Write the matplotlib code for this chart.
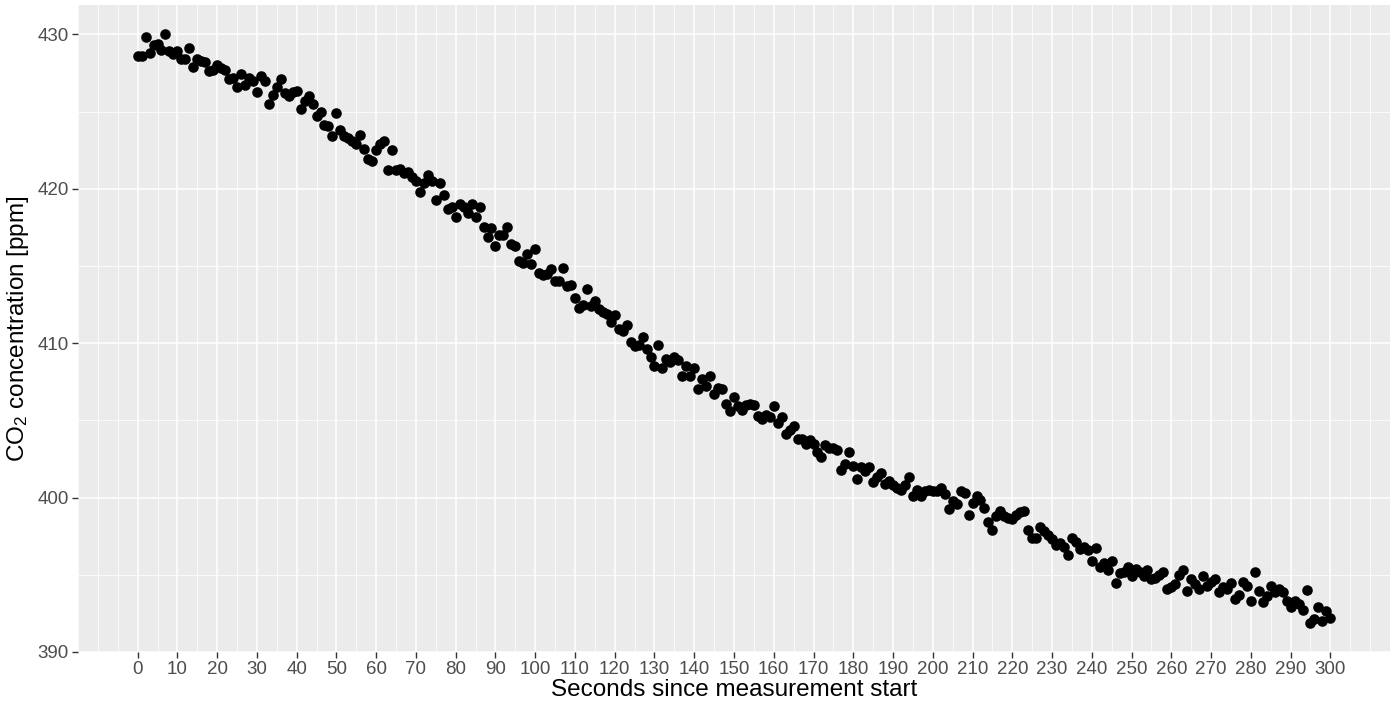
import numpy as np
import matplotlib
matplotlib.use("Agg")
import matplotlib.pyplot as plt
from matplotlib.ticker import MultipleLocator

plt.rcParams["font.family"] = ["Liberation Sans", "DejaVu Sans"]
plt.rcParams["mathtext.fontset"] = "custom"
plt.rcParams["mathtext.rm"] = "Liberation Sans"
plt.rcParams["mathtext.it"] = "Liberation Sans:italic"

# Time since start of the measurement [s]
seconds = np.arange(0, 301)

# CO2 concentration readings [ppm], one per second
co2_ppm = [
    428.6, 428.6, 429.8, 428.8, 429.3, 429.4, 429.0, 430.0, 428.9, 428.7,
    428.9, 428.4, 428.4, 429.1, 427.9, 428.4, 428.3, 428.2, 427.6, 427.7,
    428.0, 427.8, 427.7, 427.1, 427.2, 426.6, 427.45, 426.7, 427.2, 427.0,
    426.3, 427.3, 427.0, 425.5, 426.1, 426.6, 427.1, 426.2, 426.0, 426.3,
    426.35, 425.2, 425.7, 426.0, 425.5, 424.7, 425.0, 424.1, 424.05, 423.45,
    424.9, 423.8, 423.45, 423.3, 423.1, 422.9, 423.5, 422.6, 421.9, 421.8,
    422.5, 422.9, 423.1, 421.2, 422.5, 421.2, 421.3, 421.0, 421.1, 420.75,
    420.5, 419.8, 420.35, 420.9, 420.5, 419.3, 420.4, 419.6, 418.7, 418.8,
    418.2, 419.0, 418.8, 418.4, 419.0, 418.2, 418.8, 417.55, 416.9, 417.45,
    416.3, 417.0, 417.0, 417.55, 416.4, 416.3, 415.3, 415.2, 415.8, 415.1,
    416.1, 414.55, 414.4, 414.5, 414.8, 414.05, 414.0, 414.85, 413.7, 413.8,
    412.9, 412.3, 412.5, 413.5, 412.4, 412.75, 412.2, 412.0, 411.9, 411.4,
    411.8, 410.9, 410.8, 411.2, 410.1, 409.8, 409.9, 410.4, 409.6, 409.1,
    408.5, 409.9, 408.4, 409.0, 408.8, 409.1, 408.9, 407.9, 408.5, 407.85,
    408.4, 407.0, 407.7, 407.25, 407.85, 406.7, 407.1, 407.0, 406.05, 405.6,
    406.5, 405.9, 405.7, 406.0, 406.05, 406.0, 405.3, 405.1, 405.35, 405.2,
    405.9, 404.8, 405.2, 404.1, 404.4, 404.65, 403.8, 403.8, 403.5, 403.7,
    403.45, 402.95, 402.6, 403.4, 403.2, 403.2, 403.1, 401.8, 402.2, 402.95,
    402.05, 401.2, 401.95, 401.7, 401.95, 401.0, 401.3, 401.6, 400.9, 401.1,
    400.8, 400.65, 400.5, 400.8, 401.3, 400.1, 400.5, 400.1, 400.4, 400.5,
    400.4, 400.4, 400.6, 400.2, 399.25, 399.8, 399.6, 400.4, 400.3, 398.9,
    399.65, 400.1, 399.85, 399.3, 398.4, 397.9, 398.8, 399.1, 398.8, 398.65,
    398.6, 398.9, 399.05, 399.15, 397.9, 397.4, 397.4, 398.1, 397.85, 397.6,
    397.3, 396.9, 397.05, 396.8, 396.3, 397.4, 397.1, 396.65, 396.8, 396.6,
    395.9, 396.75, 395.5, 395.75, 395.3, 395.9, 394.45, 395.1, 395.15, 395.5,
    394.9, 395.4, 395.2, 394.9, 395.3, 394.7, 394.8, 395.0, 395.2, 394.05,
    394.2, 394.4, 395.0, 395.3, 393.95, 394.7, 394.4, 394.1, 394.9, 394.3,
    394.5, 394.75, 393.9, 394.2, 394.1, 394.45, 393.45, 393.7, 394.5, 394.25,
    393.3, 395.15, 393.95, 393.25, 393.6, 394.25, 393.85, 394.1, 393.85, 393.3,
    392.9, 393.3, 393.1, 392.7, 394.0, 391.9, 392.15, 392.9, 392.0, 392.65,
    392.2,
]

x_breaks = np.arange(0, 301, 10)
y_breaks = [390, 400, 410, 420, 430]

fig = plt.figure(figsize=(13.94, 7.08), dpi=100)
ax = fig.add_axes([78 / 1394, 56 / 708, 1312 / 1394, 647 / 708])
ax.set_facecolor("#EBEBEB")

# 5 % padding around the data range on both axes
y = np.asarray(co2_ppm)
xr = seconds.max() - seconds.min()
yr = y.max() - y.min()
ax.set_xlim(seconds.min() - 0.05 * xr, seconds.max() + 0.05 * xr)
ax.set_ylim(y.min() - 0.05 * yr, y.max() + 0.05 * yr)

ax.set_xticks(x_breaks)
ax.set_yticks(y_breaks)
ax.xaxis.set_minor_locator(MultipleLocator(5))
ax.yaxis.set_minor_locator(MultipleLocator(5))
ax.grid(which="major", color="white", linewidth=1.1)
ax.grid(which="minor", color="white", linewidth=0.55)
ax.set_axisbelow(True)
for s in ax.spines.values():
    s.set_visible(False)

ax.tick_params(which="major", length=4, width=1, color="#333333",
               labelsize=13.5, labelcolor="#4D4D4D", pad=2.5)
ax.tick_params(which="minor", length=0)

ax.scatter(seconds, y, s=58, color="black", linewidths=0, zorder=3)

ax.set_xlabel("Seconds since measurement start", fontsize=17.5, color="black", labelpad=1)
ax.set_ylabel(r"CO$_\mathregular{2}$ concentration [ppm]", fontsize=17.5, color="black", labelpad=5)

fig.savefig("out.png", dpi=100)
